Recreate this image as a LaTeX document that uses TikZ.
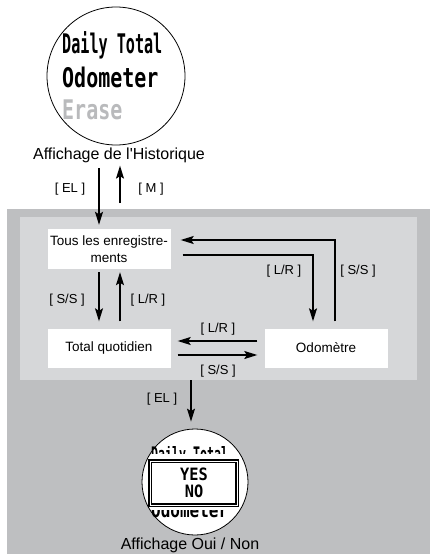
\documentclass[tikz,border=0pt]{standalone}
\usepackage{fontspec}
\usepackage{graphicx}
\setmainfont{Liberation Sans}
\newfontfamily\lcdfont{DejaVu Sans Mono}
\usetikzlibrary{arrows.meta}
\definecolor{panelout}{RGB}{190,191,193}
\definecolor{panelin}{RGB}{214,215,217}
\definecolor{lcdgray}{RGB}{185,186,188}
\tikzset{
    menubox/.style={fill=white, minimum width=123pt, minimum height=40pt, align=center, inner sep=0pt, font=\fontsize{13.5}{17}\selectfont},
    keylabel/.style={font=\fontsize{13}{15}\selectfont},
    caption/.style={font=\fontsize{16}{19}\selectfont, inner sep=0pt},
    flow/.style={-{Stealth[length=13pt,width=8pt,inset=2.5pt]}, line width=1.1pt},
    lcd/.style={anchor=west, inner sep=0pt},
}
\newcommand{\lcdtext}[3]{\scalebox{#2}[1]{\lcdfont\bfseries\fontsize{#1}{#1}\selectfont #3}}
\begin{document}
\begin{tikzpicture}[x=1pt,y=-1pt]
    \useasboundingbox (0,0) rectangle (430,554);
    % panels
    \fill[panelout](7,209) rectangle(430,554);
    \fill[panelin](20,217) rectangle(417,380);

    % history screen
    \node[circle, draw, line width=0.8pt, fill=white, minimum size=138pt, inner sep=0pt] (histo) at (116,76) {};
    \node[lcd] (daily) at (62,45) {\lcdtext{27}{0.56}{Daily Total}};
    \node[lcd] (odometer) at (62,77) {\lcdtext{27}{0.74}{Odometer}};
    \node[lcd, text=lcdgray] (erase) at (62,110) {\lcdtext{27}{0.74}{Erase}};
    \node[caption] (histocap) at (119,155) {Affichage de l\textquotesingle Historique};

    % menu boxes
    \node[menubox] (tous) at (109,249) {Tous les enregistre-\\ments};
    \node[menubox, minimum height=39pt] (total) at (109,348) {Total quotidien};
    \node[menubox, minimum height=39pt] (odo) at (326,348) {Odom\`etre};

    % yes / no screen
    \node[circle, draw, line width=0.8pt, fill=white, minimum size=106pt, inner sep=0pt] (oui) at (195,482) {};
    \begin{scope}
        \clip(140,446) rectangle(250,453);
        \node[lcd, anchor=north west] (prev) at (151,445) {\lcdtext{20}{0.58}{Daily Total}};
    \end{scope}
    \begin{scope}
        \clip(140,510) rectangle(250,517);
        \node[lcd, anchor=base west] (next) at (151,517) {\lcdtext{20}{0.80}{Odometer}};
    \end{scope}
    \draw[fill=white, line width=1.4pt, double=white, double distance=1pt](150,461) rectangle(237,505);
    \node[inner sep=0pt] (yes) at (194,474) {\lcdtext{17}{0.9}{YES}};
    \node[inner sep=0pt] (no) at (194,491) {\lcdtext{17}{0.9}{NO}};
    \node[caption] (ouicap) at (190,545) {Affichage Oui / Non};

    % connectors
    \coordinate (elin) at (99,168);
    \coordinate (mfoot) at (120,203);
    \coordinate (elout) at (191,380);
    \draw[flow, shorten >=4pt](elin) -- (elin |- tous.north);
    \draw[flow, shorten >=3pt](mfoot) -- (mfoot |- histocap.south);
    \draw[flow, shorten <=3pt, shorten >=7pt]([xshift=-10pt]tous.south) -- ([xshift=-10pt]total.north);
    \draw[flow, shorten <=7pt, shorten >=3pt]([xshift=11pt]total.north) -- ([xshift=11pt]tous.south);
    \draw[flow, shorten <=12pt, shorten >=7pt]([yshift=-6pt]tous.east) -| ([xshift=-13pt]odo.north);
    \draw[flow, shorten <=7pt, shorten >=10pt]([xshift=9pt]odo.north) |- ([yshift=9pt]tous.east);
    \draw[flow, shorten <=7pt, shorten >=7pt]([yshift=7pt]odo.west) -- ([yshift=7pt]total.east);
    \draw[flow, shorten <=7pt, shorten >=7pt]([yshift=-7pt]total.east) -- ([yshift=-7pt]odo.west);
    \draw[flow, shorten >=7pt](elout) -- (elout |- oui.north);

    % key labels
    \node[keylabel] (lel) at (70,189) {[ EL ]};
    \node[keylabel] (lm) at (151,189) {[ M ]};
    \node[keylabel] (lss) at (67,300) {[ S/S ]};
    \node[keylabel] (llr) at (148,300) {[ L/R ]};
    \node[keylabel] (rlr) at (284,271) {[ L/R ]};
    \node[keylabel] (rss) at (358,271) {[ S/S ]};
    \node[keylabel] (mlr) at (218,329) {[ L/R ]};
    \node[keylabel] (mss) at (218,371) {[ S/S ]};
    \node[keylabel] (elo) at (162,399) {[ EL ]};
\end{tikzpicture}
\end{document}
